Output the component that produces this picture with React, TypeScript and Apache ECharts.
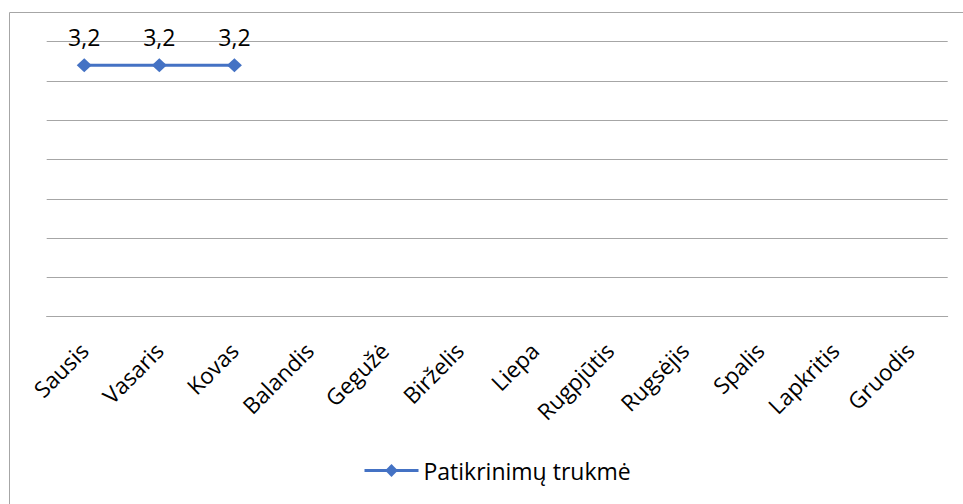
import React, { useEffect, useRef } from "react";
import * as echarts from "echarts";

const categories = ["Sausis", "Vasaris", "Kovas", "Balandis", "Gegužė", "Birželis", "Liepa", "Rugpjūtis", "Rugsėjis", "Spalis", "Lapkritis", "Gruodis"];
const seriesName = "Patikrinimų trukmė";
const values: (number | null)[] = [3.2, 3.2, 3.2, null, null, null, null, null, null, null, null, null];
const yMin = 0;
const yMax = 3.5;
const yInterval = 0.5;

const FONT = "'Open Sans', sans-serif";

export default function App() {
  const ref = useRef<HTMLDivElement>(null);
  useEffect(() => {
    if (!ref.current) return;
    const chart = echarts.init(ref.current, null, { renderer: "svg" });
    chart.setOption({
      animation: false,
      backgroundColor: "#ffffff",
      textStyle: { fontFamily: FONT },
      graphic: [
        {
          type: "rect",
          shape: { x: 9.5, y: 12.5, width: 1000, height: 600 },
          style: { fill: "none", stroke: "#a6a6a6", lineWidth: 1 },
          silent: true,
        },
      ],
      grid: { left: 46.7, right: 15.3, top: 41.7, bottom: 187.3, containLabel: false },
      legend: {
        top: 454,
        left: 358,
        itemWidth: 54,
        itemHeight: 16,
        itemGap: 6,
        lineStyle: { width: 3 },
        textStyle: { fontFamily: FONT, fontSize: 23, color: "#000000" },
        data: [seriesName],
      },
      xAxis: {
        type: "category",
        data: categories,
        boundaryGap: true,
        axisLine: { show: true, lineStyle: { color: "#a6a6a6", width: 1 } },
        axisTick: { show: false },
        axisLabel: {
          rotate: 45,
          interval: 0,
          margin: 30,
          fontFamily: FONT,
          fontSize: 22.5,
          color: "#000000",
        },
      },
      yAxis: {
        type: "value",
        min: yMin,
        max: yMax,
        interval: yInterval,
        axisLabel: { show: false },
        axisLine: { show: false },
        axisTick: { show: false },
        splitLine: { show: true, lineStyle: { color: "#a6a6a6", width: 1 } },
      },
      series: [
        {
          name: seriesName,
          type: "line",
          data: values,
          connectNulls: false,
          symbol: "diamond",
          symbolSize: [15, 14],
          itemStyle: { color: "#4472C4" },
          lineStyle: { color: "#4472C4", width: 3 },
          label: {
            show: true,
            position: "top",
            distance: 10,
            fontFamily: FONT,
            fontSize: 23,
            color: "#000000",
            formatter: (p: any) => String(p.value).replace(".", ","),
          },
        },
      ],
    });
    return () => chart.dispose();
  }, []);
  return <div ref={ref} style={{ position: "fixed", left: 0, top: 0, width: 963, height: 504 }} />;
}
